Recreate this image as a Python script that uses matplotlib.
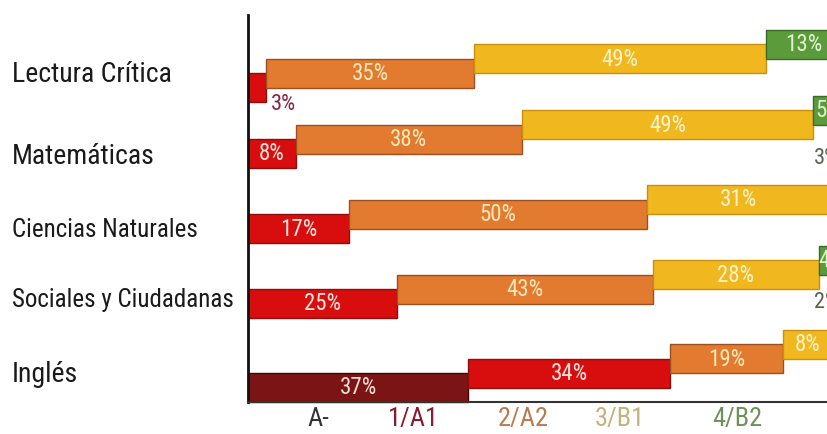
import matplotlib
matplotlib.use('Agg')
import matplotlib.pyplot as plt
from matplotlib.transforms import blended_transform_factory

# Percentage of students per performance level, by test
subjects = ['Lectura Crítica', 'Matemáticas', 'Ciencias Naturales',
            'Sociales y Ciudadanas', 'Inglés']
lectura = [3, 35, 49, 13]
matematicas = [8, 38, 49, 5]
ciencias = [17, 50, 31, 3]
sociales = [25, 43, 28, 4]
ingles = [37, 34, 19, 8, 2]
levels = ['A-', '1/A1', '2/A2', '3/B1', '4/B2']

rows = [lectura, matematicas, ciencias, sociales, ingles]
# first level index used by each row (only Inglés has A-)
first_level = [1, 1, 1, 1, 0]

bar_colors = ['#7b1414', '#d80d0d', '#e27b30', '#f0b81e', '#5c9b3c']
edge_colors = ['#3e0808', '#8a1010', '#9a5020', '#c89010', '#3a6a28']
inner_text = ['#f3dcd0', '#f8e6dc', '#fbe8b8', '#fbf2c8', '#dff2d0']
level_text = ['#333333', '#8b1a2a', '#b87a50', '#c8b078', '#70905a']

font = ['Liberation Sans Narrow', 'Roboto Condensed', 'Archivo Narrow', 'DejaVu Sans']

# vertical layout (pixel-like units, y grows downward)
row_bottom = [102, 168, 243, 318, 402]
label_y = [75, 157, 230, 300, 375]
label_size = [20, 20, 18, 18, 20]
step = 14.5
bar_h = 29

fig = plt.figure(figsize=(8.28, 4.34), dpi=100)
ax = fig.add_axes([248 / 828, 32 / 434, 580 / 828, 387 / 434])
ax.set_xlim(0, 97.5)
ax.set_ylim(402, 15)

for r, vals in enumerate(rows):
    start = 0
    for i, v in enumerate(vals):
        lv = first_level[r] + i
        yc = row_bottom[r] - i * step - bar_h / 2
        ax.barh(yc, v, left=start, height=bar_h, color=bar_colors[lv],
                edgecolor=edge_colors[lv], linewidth=1.0, clip_on=False)
        if v >= 4:
            ax.text(start + v / 2, yc + 0.5, f'{v}%', ha='center', va='center',
                    fontsize=16.5, color=inner_text[lv], family=font, clip_on=True)
        elif i == 0:
            # small first segment: label under, to the right
            ax.text(start + v + 0.8, yc + bar_h / 2 + 2, f'{v}%', ha='left',
                    va='center', fontsize=16, color='#8b2040', family=font)
        else:
            # small last segment: label above
            ax.text(start - 2.8, yc - bar_h / 2 - 12, f'{v}%', ha='left',
                    va='center', fontsize=16, color='#556050', family=font,
                    clip_on=True)
        start += v

# subject names on the left
trans = blended_transform_factory(fig.transFigure, ax.transData)
for name, y, fs in zip(subjects, label_y, label_size):
    ax.text(12 / 828, y, name, transform=trans, ha='left', va='center',
            fontsize=fs, color='#1a1a1a', family=font)

# level names under the axis
level_x = [318, 413, 523, 620, 737]
for name, x, c in zip(levels, level_x, level_text):
    fig.text(x / 828, 1 - 419 / 434, name, ha='center', va='center',
             fontsize=19, color=c, family=font)

ax.set_xticks([])
ax.set_yticks([])
for s in ['top', 'right']:
    ax.spines[s].set_visible(False)
ax.spines['left'].set_linewidth(2)
ax.spines['left'].set_color('#111111')
ax.spines['bottom'].set_linewidth(1.5)
ax.spines['bottom'].set_color('#333333')

fig.savefig('out.png', dpi=100)
